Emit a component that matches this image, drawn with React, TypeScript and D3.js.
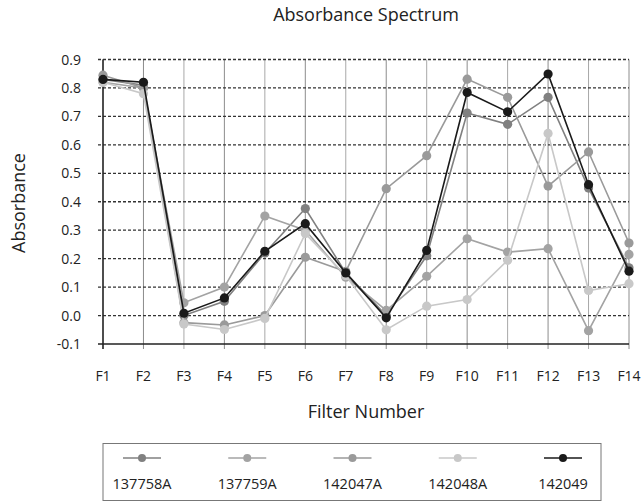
import React from 'react'
import { scaleLinear, scalePoint, line } from 'd3'

const filters = ['F1', 'F2', 'F3', 'F4', 'F5', 'F6', 'F7', 'F8', 'F9', 'F10', 'F11', 'F12', 'F13', 'F14']
const yTicks = [-0.1, 0, 0.1, 0.2, 0.3, 0.4, 0.5, 0.6, 0.7, 0.8, 0.9]

const s137758A = [0.83, 0.81, 0.0, 0.05, 0.22, 0.376, 0.15, 0.0, 0.21, 0.712, 0.672, 0.767, 0.448, 0.168]
const s137759A = [0.82, 0.8, 0.045, 0.1, 0.35, 0.3, 0.135, 0.018, 0.138, 0.27, 0.223, 0.235, -0.053, 0.215]
const s142047A = [0.845, 0.8, -0.025, -0.033, 0.0, 0.205, 0.155, 0.446, 0.562, 0.831, 0.767, 0.455, 0.575, 0.255]
const s142048A = [0.82, 0.78, -0.03, -0.049, -0.01, 0.288, 0.14, -0.05, 0.033, 0.056, 0.194, 0.64, 0.088, 0.112]
const s142049 = [0.83, 0.82, 0.008, 0.062, 0.226, 0.323, 0.15, -0.008, 0.229, 0.784, 0.716, 0.849, 0.46, 0.156]

const seriesNames = ['137758A', '137759A', '142047A', '142048A', '142049']
const seriesData = [s137758A, s137759A, s142047A, s142048A, s142049]
const seriesColors = ['#808080', '#a3a3a3', '#9a9a9a', '#c8c8c8', '#1a1a1a']

const W = 642
const H = 504
const font = "'Open Sans', sans-serif"

export default function App() {
  const x = scalePoint<string>().domain(filters).range([103, 629])
  const y = scaleLinear().domain([-0.1, 0.9]).range([344, 59.5])

  const path = line<number>()
    .x((_, i) => x(filters[i]) as number)
    .y(d => y(d))

  const legendX = scalePoint<string>().domain(seriesNames).range([142, 563])

  return (
    <svg width={W} height={H} style={{ position: 'absolute', left: 0, top: 0, fontFamily: font }}>
      <rect width={W} height={H} fill="#fff" />
      <text x={366} y={21} textAnchor="middle" fontSize={18} fill="#222">Absorbance Spectrum</text>

      {/* vertical grid */}
      {filters.map((f, i) => (
        <line key={f} x1={x(f)} x2={x(f)} y1={59.5} y2={349}
          stroke={i % 2 ? '#8c8c8c' : '#a8a8a8'} strokeWidth={1} />
      ))}
      {/* horizontal grid */}
      {yTicks.filter(t => t > -0.1).map(t => (
        <line key={t} x1={98} x2={629} y1={y(t)} y2={y(t)}
          stroke="#333" strokeWidth={1.3} strokeDasharray="3,2" />
      ))}
      <line x1={98} x2={629} y1={y(-0.1)} y2={y(-0.1)} stroke="#222" strokeWidth={1.5} />
      <line x1={103} x2={103} y1={59.5} y2={349} stroke="#222" strokeWidth={1.5} />

      {yTicks.map(t => (
        <text key={t} x={81} y={y(t)} dy="0.36em" textAnchor="end" fontSize={14} fill="#222">
          {t.toFixed(1)}
        </text>
      ))}
      {filters.map(f => (
        <text key={f} x={x(f)} y={381} textAnchor="middle" fontSize={14} fill="#222">{f}</text>
      ))}

      <text x={366} y={418} textAnchor="middle" fontSize={18} fill="#222">Filter Number</text>
      <text transform={`translate(25,203) rotate(-90)`} textAnchor="middle" fontSize={18} fill="#222">Absorbance</text>

      {seriesData.map((d, si) => (
        <g key={seriesNames[si]}>
          <path d={path(d) ?? ''} fill="none" stroke={seriesColors[si]} strokeWidth={1.6} />
          {d.map((v, i) => (
            <circle key={i} cx={x(filters[i])} cy={y(v)} r={4.6} fill={seriesColors[si]} />
          ))}
        </g>
      ))}

      {/* legend */}
      <rect x={103} y={443.5} width={498} height={57} fill="none" stroke="#777" strokeWidth={1} />
      {seriesNames.map((n, si) => {
        const cx = legendX(n) as number
        return (
          <g key={n}>
            <line x1={cx - 19} x2={cx + 19} y1={458} y2={458} stroke={seriesColors[si]} strokeWidth={1.6} />
            <circle cx={cx} cy={458} r={4} fill={seriesColors[si]} />
            <text x={cx} y={489} textAnchor="middle" fontSize={14.5} fill="#222">{n}</text>
          </g>
        )
      })}
    </svg>
  )
}
